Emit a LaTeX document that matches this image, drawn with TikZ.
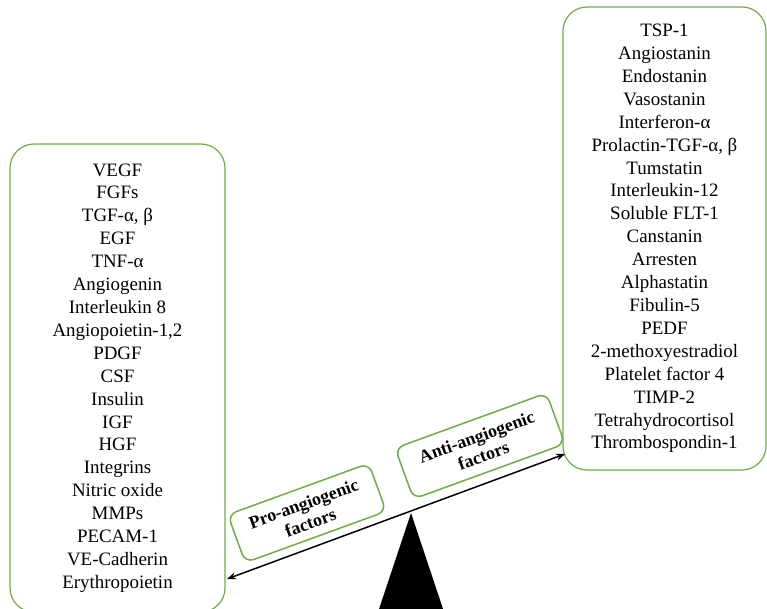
\documentclass[tikz,border=0pt]{standalone}
\usepackage{fontspec}
\setmainfont{Liberation Serif}
\usetikzlibrary{arrows.meta}
\definecolor{leafgreen}{RGB}{112,173,71}

\begin{document}
\begin{tikzpicture}[x=1bp,y=-1bp,
    listbox/.style={draw=leafgreen, line width=1.2bp, rounded corners=24bp,
      align=center, inner sep=0pt, font=\fontsize{19}{23}\selectfont},
    tagbox/.style={draw=leafgreen, line width=1.5bp, rounded corners=9bp,
      align=center, inner sep=0pt, rotate=20,
      font=\fontsize{18}{20}\selectfont\bfseries}]
    \useasboundingbox (0,0) rectangle (767,609);

    % Factor lists
    \node[listbox, minimum width=215bp, minimum height=468bp] (pro) at (117.5,378)
      {VEGF\\ FGFs\\ TGF-α, β\\ EGF\\ TNF-α\\ Angiogenin\\ Interleukin 8\\
       Angiopoietin-1,2\\ PDGF\\ CSF\\ Insulin\\ IGF\\ HGF\\ Integrins\\
       Nitric oxide\\ MMPs\\ PECAM-1\\ VE-Cadherin\\ Erythropoietin};
    \node[listbox, minimum width=203bp, minimum height=463bp] (anti) at (664.5,238.5)
      {TSP-1\\ Angiostanin\\ Endostanin\\ Vasostanin\\ Interferon-α\\
       Prolactin-TGF-α, β\\ Tumstatin\\ Interleukin-12\\ Soluble FLT-1\\
       Canstanin\\ Arresten\\ Alphastatin\\ Fibulin-5\\ PEDF\\
       2-methoxyestradiol\\ Platelet factor 4\\ TIMP-2\\ Tetrahydrocortisol\\
       Thrombospondin-1};

    % Beam and fulcrum
    \coordinate (lend) at (227,579);
    \coordinate (rend) at (565,454);
    \coordinate (pivot) at (411,513);
    \draw[line width=1.5bp, {Stealth[length=9bp,width=7bp]}-{Stealth[length=9bp,width=7bp]}]
      (lend) -- (rend);
    \fill (pivot) -- (377,615) -- (445,615) -- cycle;

    % Labels on the beam
    \node[tagbox, minimum width=150bp, minimum height=51bp] (protag) at (307,513)
      {Pro-angiogenic\\ factors};
    \node[tagbox, minimum width=161bp, minimum height=54bp] (antitag) at (480,446)
      {Anti-angiogenic\\ factors};
\end{tikzpicture}
\end{document}
